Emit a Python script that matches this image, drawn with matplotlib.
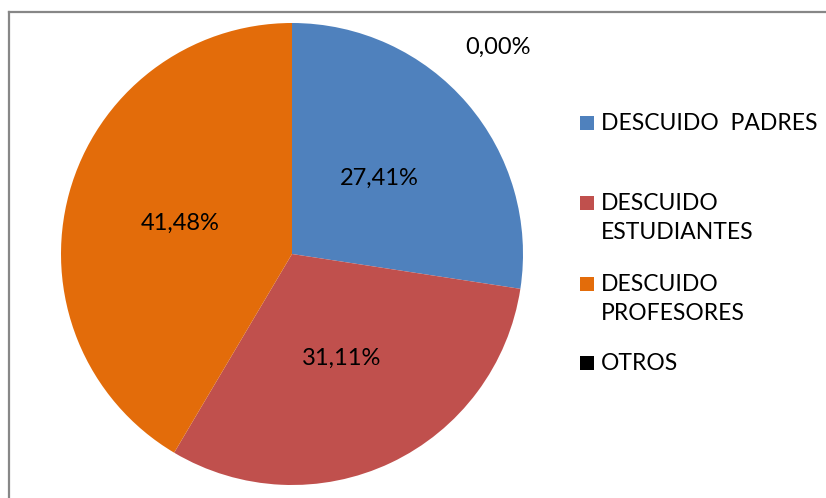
import matplotlib
matplotlib.use("Agg")
import matplotlib.pyplot as plt
from matplotlib.patches import Rectangle
from matplotlib.lines import Line2D

categories = ["DESCUIDO  PADRES", "DESCUIDO\nESTUDIANTES", "DESCUIDO\nPROFESORES", "OTROS"]
values = [27.41, 31.11, 41.48, 0.00]
colors = ["#4F81BD", "#C0504D", "#E36C0A", "#000000"]

plt.rcParams['font.family'] = ['Lato', 'DejaVu Sans']
FS = 17
LFS = 16.5

W, H = 826, 498
fig = plt.figure(figsize=(W / 100, H / 100), dpi=100)

# chart frame (left and top lines visible)
fig.add_artist(Line2D([9 / W, 9 / W], [0, 1 - 12 / H], transform=fig.transFigure,
                      color="#878787", lw=1.6))
fig.add_artist(Line2D([9 / W, 1], [1 - 12 / H, 1 - 12 / H], transform=fig.transFigure,
                      color="#878787", lw=1.6))

cx, cy, r = 292, 254, 231
ax = fig.add_axes([(cx - r) / W, (H - cy - r) / H, 2 * r / W, 2 * r / H])


def fmt(p):
    return f"{p:.2f}%".replace('.', ',')


wedges, texts, autotexts = ax.pie(values, colors=colors, startangle=90, counterclock=False,
                                  autopct=fmt, pctdistance=0.5, radius=1,
                                  textprops=dict(fontsize=FS, color="black"),
                                  wedgeprops=dict(linewidth=0))
ax.set_xlim(-1, 1)
ax.set_ylim(-1, 1)
ax.set_aspect('equal')
ax.axis('off')

# zero-value label placed outside, as in the reference
autotexts[3].set_position(((498 - cx) / r, (cy - 47) / r))

# legend, built manually
leg_rows = [123, 218, 299, 363]
for cat, col, y in zip(categories, colors, leg_rows):
    nlines = cat.count("\n") + 1
    ytop = y if nlines == 1 else y - 15
    fig.add_artist(Rectangle((580 / W, 1 - (ytop + 7) / H), 14 / W, 14 / H,
                             transform=fig.transFigure, color=col, lw=0))
    fig.text(601 / W, 1 - y / H, cat, fontsize=LFS, va="center", ha="left",
             linespacing=1.5)

fig.savefig("out.png", dpi=100)
